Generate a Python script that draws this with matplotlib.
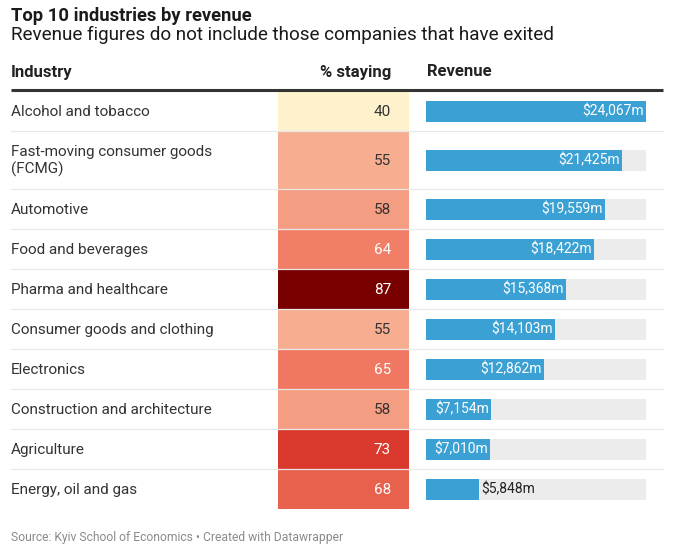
import matplotlib.pyplot as plt
import numpy as np
from matplotlib.colors import LinearSegmentedColormap, Normalize

plt.rcParams['font.family'] = ['Roboto', 'DejaVu Sans']

# data
industries = ['Alcohol and tobacco', 'Fast-moving consumer goods\n(FCMG)', 'Automotive',
              'Food and beverages', 'Pharma and healthcare', 'Consumer goods and clothing',
              'Electronics', 'Construction and architecture', 'Agriculture', 'Energy, oil and gas']
staying = [40, 55, 58, 64, 87, 55, 65, 58, 73, 68]
revenue = [24067, 21425, 19559, 18422, 15368, 14103, 12862, 7154, 7010, 5848]

# row layout in pixels (top origin)
row_tops = np.array([91, 131, 189, 229, 269, 309, 349, 389, 429, 469])
row_bottoms = np.array([131, 189, 229, 269, 309, 349, 389, 429, 469, 509])
row_h = row_bottoms - row_tops
row_c = (row_tops + row_bottoms) / 2

cmap = LinearSegmentedColormap.from_list('heat', [
    (0.0, '#fdf2cc'), (15 / 47, '#f7ae90'), (25 / 47, '#f07861'),
    (33 / 47, '#d93a2d'), (1.0, '#780000')])
norm = Normalize(40, 87)

fig = plt.figure(figsize=(6.8, 5.53), dpi=100)
ax = fig.add_axes([0, 0, 1, 1])
ax.set_xlim(0, 680)
ax.set_ylim(553, 0)
ax.axis('off')

# titles
ax.text(11, 16, 'Top 10 industries by revenue', fontsize=13.2, fontweight='bold',
        color='#1a1a1a', va='center')
ax.text(11, 35, 'Revenue figures do not include those companies that have exited',
        fontsize=13.6, color='#1a1a1a', va='center')

# headers
ax.text(11, 72, 'Industry', fontsize=12, fontweight='bold', color='#222', va='center')
ax.text(391, 72, '% staying', fontsize=12, fontweight='bold', color='#222',
        va='center', ha='right')
ax.text(427, 72, 'Revenue', fontsize=12, fontweight='bold', color='#222', va='center')
ax.plot([11, 663], [89.5, 89.5], color='#333333', lw=2.2, solid_capstyle='butt')

# separators
for yb in row_bottoms[:-1]:
    ax.plot([11, 663], [yb, yb], color='#e8e8e8', lw=0.9)

# labels
for y, name in zip(row_c, industries):
    ax.text(11, y + 1, name, fontsize=11, color='#333', va='center', linespacing=1.3)

# heatmap column
ax.barh(row_c, 131, left=278, height=row_h, color=cmap(norm(staying)))
for y, v in zip(row_c, staying):
    ax.text(391, y + 1, str(v), fontsize=11, va='center', ha='right',
            color='#333' if v < 60 else 'white')

# revenue bars
bx = fig.add_axes([426 / 680, 0, 220 / 680, 1])
bx.set_ylim(553, 0)
bx.set_xlim(0, max(revenue))
bx.axis('off')
bx.barh(row_c, max(revenue), height=21, color='#ececec')
bx.barh(row_c, revenue, height=21, color='#3ba0d3')
for y, r in zip(row_c, revenue):
    label = '${:,}m'.format(r)
    if r > 6500:
        bx.text(r - 250, y + 0.5, label, fontsize=10, color='white', va='center', ha='right')
    else:
        bx.text(r + 250, y + 0.5, label, fontsize=10, color='#222', va='center', ha='left')

ax.text(11, 538, 'Source: Kyiv School of Economics \u2022 Created with Datawrapper',
        fontsize=8.7, color='#8a8a8a', va='center')

fig.savefig('out.png', dpi=100)
